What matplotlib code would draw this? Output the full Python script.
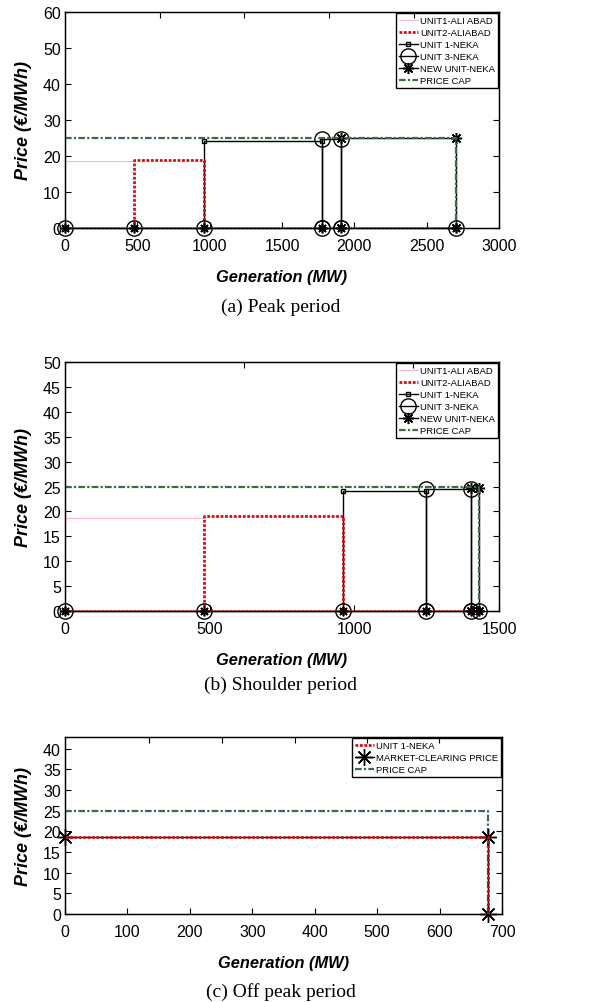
import matplotlib
matplotlib.use("Agg")
import matplotlib.pyplot as plt

plt.rcParams['font.family'] = ['Liberation Sans', 'DejaVu Sans']

# ---- (a) Peak period ----
a_breaks = [0, 480, 960, 1778, 1907, 2700]
a_unit1_ali = ([0, 480], [18.5, 18.5])
a_unit2_ali = ([480, 480, 960, 960], [0, 18.8, 18.8, 0])
a_unit1_neka = ([960, 960, 1778, 1778], [0, 24.1, 24.1, 0])
a_unit3_neka = ([1778, 1778, 1907, 1907], [0, 24.6, 24.6, 0])
a_new_neka = ([1907, 1907, 2700, 2700], [0, 24.9, 24.9, 0])
a_cap = ([0, 2700, 2700], [25, 25, 0])

# ---- (b) Shoulder period ----
b_breaks = [0, 480, 960, 1248, 1404, 1430]
b_unit1_ali = ([0, 480], [18.7, 18.7])
b_unit2_ali = ([480, 480, 960, 960], [0, 19.1, 19.1, 0])
b_unit1_neka = ([960, 960, 1248, 1248], [0, 24.0, 24.0, 0])
b_unit3_neka = ([1248, 1248, 1404, 1404], [0, 24.6, 24.6, 0])
b_new_neka = ([1404, 1404, 1430, 1430], [0, 24.8, 24.8, 0])
b_cap = ([0, 1430, 1430], [25, 25, 0])

# ---- (c) Off peak period ----
c_unit1_neka = ([0, 678, 678], [18.6, 18.6, 0])
c_mcp = ([0, 678, 678], [18.6, 18.6, 0])
c_cap = ([0, 678, 678], [25, 25, 0])

pink = '#f07fb8'
red = '#d01010'
green = '#3d6b45'
red_ls = (0, (1, 0.6))
cap_ls = (0, (3, 1, 1, 1))
star = (8, 2, 0)

fig = plt.figure(figsize=(6.1, 10.03), dpi=100)


def style(ax, xmax, ymax, xstep, ystep, top_fracs):
    ax.set_xlim(0, xmax)
    ax.set_ylim(0, ymax)
    ax.set_xticks(range(0, xmax + 1, xstep))
    ax.set_yticks(range(0, int(ymax) + 1, ystep))
    ax.tick_params(direction='in', length=4, labelsize=11.5, right=True, top=False)
    ax.tick_params(axis='x', pad=7)
    ax.tick_params(axis='y', pad=3)
    for s in ax.spines.values():
        s.set_linewidth(1.0)
    ax.set_xlabel('Generation (MW)', fontsize=11.8, fontweight='bold', fontstyle='italic', labelpad=12)
    ax.set_ylabel('Price (€/MWh)', fontsize=13, fontweight='bold', fontstyle='italic', labelpad=8)
    tw = ax.twiny()
    tw.set_xlim(0, 1)
    tw.set_xticks(top_fracs)
    tw.tick_params(direction='in', length=4, labeltop=False)


def make_legend(ax):
    leg = ax.legend(loc='upper right', fontsize=6.8, handlelength=2.0, handletextpad=0.2,
                    borderpad=0.3, labelspacing=0.32, fancybox=False, framealpha=1,
                    edgecolor='black', borderaxespad=0.15)
    leg.get_frame().set_linewidth(1.0)


def steps(ax, u1, u2, n1, n3, nn, cap, breaks):
    ax.plot(*u1, color=pink, lw=0.8, ls=(0, (1, 0.8)), label='UNIT1-ALI ABAD')
    ax.plot(*u2, color=red, lw=2.0, ls=red_ls, label='UNIT2-ALIABAD', zorder=4)
    ax.plot(*n1, color='black', lw=1.0, marker='s', ms=3, mfc='none', label='UNIT 1-NEKA')
    ax.plot(*n3, color='black', lw=1.0, marker='o', ms=11, mfc='none', label='UNIT 3-NEKA')
    ax.plot(*nn, color='black', lw=1.0, marker=star, ms=8, mew=1.1, label='NEW UNIT-NEKA')
    ax.plot(*cap, color=green, lw=1.6, ls=cap_ls, label='PRICE CAP')
    zeros = [0] * len(breaks)
    ax.plot(breaks, zeros, color='black', lw=1.0, marker='o', ms=11, mfc='none', clip_on=False, zorder=5)
    ax.plot(breaks, zeros, color='black', lw=0, marker=star, ms=7, mew=1.2, clip_on=False, zorder=6)
    ax.plot([breaks[0], breaks[-1]], [0, 0], color=red, lw=1.2, ls=red_ls, zorder=5)
    make_legend(ax)


ax_a = fig.add_axes([0.1066, 0.7717, 0.7115, 0.2154])
steps(ax_a, a_unit1_ali, a_unit2_ali, a_unit1_neka, a_unit3_neka, a_new_neka, a_cap, a_breaks)
style(ax_a, 3000, 60, 500, 10, [0.219, 0.412, 0.608, 0.804])

ax_b = fig.add_axes([0.1066, 0.3898, 0.7115, 0.2483])
steps(ax_b, b_unit1_ali, b_unit2_ali, b_unit1_neka, b_unit3_neka, b_new_neka, b_cap, b_breaks)
style(ax_b, 1500, 50, 500, 5, [0.412, 0.802])

ax_c = fig.add_axes([0.1066, 0.0877, 0.7164, 0.1765])
ax_c.plot(*c_unit1_neka, color=red, lw=2.0, ls=red_ls, label='UNIT 1-NEKA', zorder=4)
ax_c.plot(*c_mcp, color='black', lw=1.0, marker=star, ms=12, mew=1.0,
          label='MARKET-CLEARING PRICE', clip_on=False, zorder=3)
ax_c.plot(*c_cap, color=green, lw=1.6, ls=cap_ls, label='PRICE CAP')
make_legend(ax_c)
style(ax_c, 700, 42.8, 100, 5, [0.192, 0.359, 0.526, 0.691, 0.856])

cap_kw = dict(ha='center', va='center', fontsize=14, family=['Liberation Serif', 'DejaVu Serif'])
fig.text(0.46, 1 - 307 / 1003, '(a) Peak period', **cap_kw)
fig.text(0.46, 1 - 685 / 1003, '(b) Shoulder period', **cap_kw)
fig.text(0.46, 1 - 992 / 1003, '(c) Off peak period', **cap_kw)

fig.savefig('out.png', dpi=100)
